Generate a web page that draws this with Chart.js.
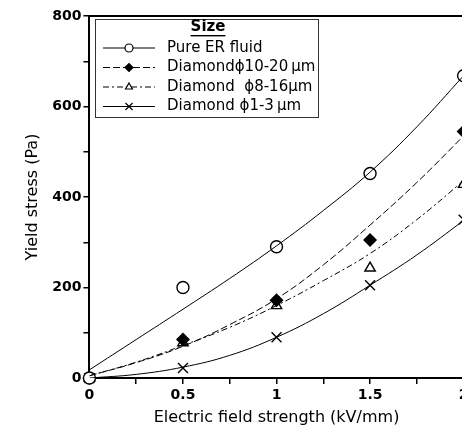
<!DOCTYPE html>
<html>
<head>
<meta charset="utf-8">
<script src="https://cdn.jsdelivr.net/npm/chart.js@4.4.1/dist/chart.umd.min.js"></script>
<style>
  html, body { margin: 0; padding: 0; background: #fff; overflow: hidden; }
  #wrap { width: 462px; height: 435px; overflow: hidden; }
</style>
</head>
<body>
<div id="wrap"><canvas id="yieldChart" width="472" height="435"></canvas></div>
<script>
// measured points
const fieldKV = [0, 0.5, 1, 1.5, 2];
const pureER = [0, 200, 290, 452, 668];
const diamond10to20 = [0, 85, 172, 305, 545];
const diamond8to16 = [0, 78, 160, 243, 428];
const diamond1to3 = [0, 22, 90, 205, 350];

// trend curves
const fitX = [0, 0.25, 0.5, 0.75, 1, 1.25, 1.5, 1.75, 2];
const pureFit = [18, 85, 152, 220, 292, 370, 455, 555, 668];
const fit10to20 = [5, 34, 70, 118, 175, 250, 338, 432, 535];
const fit8to16 = [5, 35, 72, 112, 160, 215, 275, 350, 436];
const fit1to3 = [0, 8, 24, 50, 90, 142, 205, 272, 348];

const legendTitle = 'Size';
const seriesNames = ['Pure ER fluid', 'Diamond\u03D510-20\u2009\u03BCm', 'Diamond  \u03D58-16\u03BCm', 'Diamond \u03D51-3\u2009\u03BCm'];

const FONT = '"DejaVu Sans", Verdana, sans-serif';

const toXY = (xs, ys) => xs.map((x, i) => ({ x: x, y: ys[i] }));

const markers = [
    { style: 'circle', fill: '#fff', radius: 6, dash: [] },
    { style: 'rectRot', fill: '#000', radius: 6, dash: [7, 3] },
    { style: 'triangle', fill: '#fff', radius: 6, dash: [6, 3, 2, 3] },
    { style: 'crossRot', fill: '#000', radius: 7, dash: [] }
];

const pointSets = [pureER, diamond10to20, diamond8to16, diamond1to3];
const fitSets = [pureFit, fit10to20, fit8to16, fit1to3];

const datasets = [];
fitSets.forEach((ys, i) => {
    datasets.push({
        label: 'fit' + i,
        data: toXY(fitX, ys),
        borderColor: '#000',
        borderWidth: 1,
        borderDash: markers[i].dash,
        pointRadius: 0,
        tension: 0.4,
        fill: false,
        showLine: true
    });
});
pointSets.forEach((ys, i) => {
    datasets.push({
        label: seriesNames[i],
        data: toXY(fieldKV, ys),
        showLine: false,
        pointStyle: markers[i].style,
        pointRadius: markers[i].radius,
        pointBackgroundColor: markers[i].fill,
        pointBorderColor: '#000',
        pointBorderWidth: 1.4,
        clip: false
    });
});

// frame round the plot + boxed legend in the top-left corner
const framePlugin = {
    id: 'frame',
    afterDraw(chart) {
        const { ctx, chartArea: a } = chart;
        ctx.save();
        ctx.strokeStyle = '#000';
        ctx.lineWidth = 2;
        ctx.beginPath();
        ctx.moveTo(a.left, a.top);
        ctx.lineTo(a.right, a.top);
        ctx.lineTo(a.right, a.bottom);
        ctx.stroke();

        // legend box
        const bx = 95, by = 19, bw = 223, bh = 98;
        ctx.fillStyle = '#fff';
        ctx.fillRect(bx, by, bw, bh);
        ctx.lineWidth = 1;
        ctx.strokeStyle = '#333';
        ctx.strokeRect(bx + 0.5, by + 0.5, bw, bh);

        ctx.fillStyle = '#000';
        ctx.font = 'bold 15px ' + FONT;
        ctx.textAlign = 'center';
        ctx.textBaseline = 'middle';
        const tw = ctx.measureText(legendTitle).width;
        ctx.fillText(legendTitle, bx + 113, by + 8);
        ctx.fillRect(bx + 113 - tw / 2, by + 16, tw, 1.4);

        ctx.font = '15px ' + FONT;
        ctx.textAlign = 'left';
        seriesNames.forEach((name, i) => {
            const y = by + 29 + i * 19.5;
            ctx.strokeStyle = '#000';
            ctx.beginPath();
            ctx.lineWidth = 1;
            ctx.setLineDash(markers[i].dash);
            ctx.moveTo(bx + 8, y);
            ctx.lineTo(bx + 60, y);
            ctx.stroke();
            ctx.setLineDash([]);
            ctx.fillStyle = markers[i].fill;
            ctx.lineWidth = 1.2;
            Chart.helpers.drawPoint(ctx, {
                pointStyle: markers[i].style,
                radius: markers[i].radius - 2,
                borderWidth: 1.2
            }, bx + 34, y);
            ctx.fillStyle = '#000';
            ctx.fillText(name, bx + 72, y);
        });
        ctx.restore();
    }
};

const ctx = document.getElementById('yieldChart').getContext('2d');
new Chart(ctx, {
    type: 'scatter',
    data: { datasets: datasets },
    options: {
        responsive: false,
        animation: false,
        layout: { padding: { left: 23, top: 16, right: 0, bottom: 0 } },
        plugins: {
            legend: { display: false },
            tooltip: { enabled: false }
        },
        scales: {
            x: {
                type: 'linear',
                min: 0,
                max: 2,
                border: { color: '#000', width: 2 },
                grid: { drawOnChartArea: false, color: '#000', tickLength: 6, lineWidth: 1.5 },
                ticks: {
                    stepSize: 0.25,
                    autoSkip: false,
                    maxRotation: 0,
                    color: '#000',
                    padding: 3,
                    font: { family: FONT, size: 14, weight: 'bold' },
                    callback: v => (v % 0.5 === 0 ? String(v) : '')
                },
                title: {
                    display: true,
                    text: 'Electric field strength (kV/mm)',
                    color: '#000',
                    font: { family: FONT, size: 16 },
                    padding: { top: 1, bottom: 8 }
                }
            },
            y: {
                min: 0,
                max: 800,
                border: { color: '#000', width: 2 },
                grid: { drawOnChartArea: false, color: '#000', tickLength: 6, lineWidth: 1.5 },
                ticks: {
                    stepSize: 100,
                    autoSkip: false,
                    color: '#000',
                    padding: 2,
                    font: { family: FONT, size: 14, weight: 'bold' },
                    callback: v => (v % 200 === 0 ? String(v) : '')
                },
                title: {
                    display: true,
                    text: 'Yield stress (Pa)',
                    color: '#000',
                    font: { family: FONT, size: 16 },
                    padding: { top: 0, bottom: 8 }
                }
            }
        }
    },
    plugins: [framePlugin]
});
</script>
</body>
</html>
